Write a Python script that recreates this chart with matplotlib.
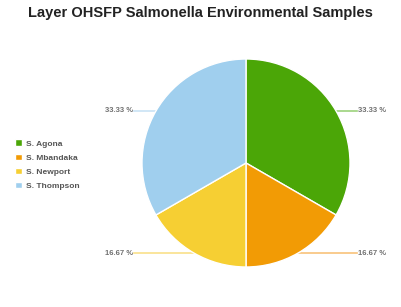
import numpy as np
import matplotlib.pyplot as plt

labels = ['S. Agona', 'S. Mbandaka', 'S. Newport', 'S. Thompson']
values = [33.33, 16.67, 16.67, 33.33]
colors = ['#4ba607', '#f29b05', '#f6cf33', '#a0cfee']
line_colors = ['#9cd27c', '#f8c27a', '#f9e08a', '#c9e3f5']

plt.rcParams['font.family'] = ['Liberation Sans', 'DejaVu Sans']

W, H = 401, 307
fig = plt.figure(figsize=(W / 100, H / 100), dpi=100)
cx, cy, r = 246, 144, 104
ax = fig.add_axes([(cx - r) / W, (cy - r) / H, 2 * r / W, 2 * r / H])

wedges, _ = ax.pie(values, colors=colors, startangle=90, counterclock=False,
                   radius=1, wedgeprops=dict(edgecolor='white', linewidth=1))
ax.set_xlim(-1, 1)
ax.set_ylim(-1, 1)
ax.axis('off')

# leader lines + percentage labels
for w, v, lc in zip(wedges, values, line_colors):
    ang = np.deg2rad((w.theta1 + w.theta2) / 2)
    x, y = np.cos(ang), np.sin(ang)
    if x >= 0:
        ax.plot([x, 1.07], [y, y], color=lc, lw=1.2, clip_on=False, zorder=0)
        ax.text(1.08, y, '%.2f %%' % v, ha='left', va='center',
                fontsize=5.5, color='#707070', fontweight='bold')
    else:
        ax.plot([x, -1.08], [y, y], color=lc, lw=1.2, clip_on=False, zorder=0)
        ax.text(-1.09, y, '%.2f %%' % v, ha='right', va='center',
                fontsize=5.5, color='#707070', fontweight='bold')

fig.text(0.5, 1 - 13 / H, 'Layer OHSFP Salmonella Environmental Samples',
         ha='center', va='center', fontsize=10.5, fontweight='bold', color='#222222')

leg = fig.legend(wedges, labels, loc='upper left',
                 bbox_to_anchor=(7 / W, 1 - 132 / H), frameon=False,
                 handlelength=0.85, handleheight=0.85, handletextpad=0.5,
                 labelspacing=0.7, prop=dict(size=6, weight='bold'))
for t in leg.get_texts():
    t.set_color('#555555')

fig.savefig('out.png', dpi=100)
